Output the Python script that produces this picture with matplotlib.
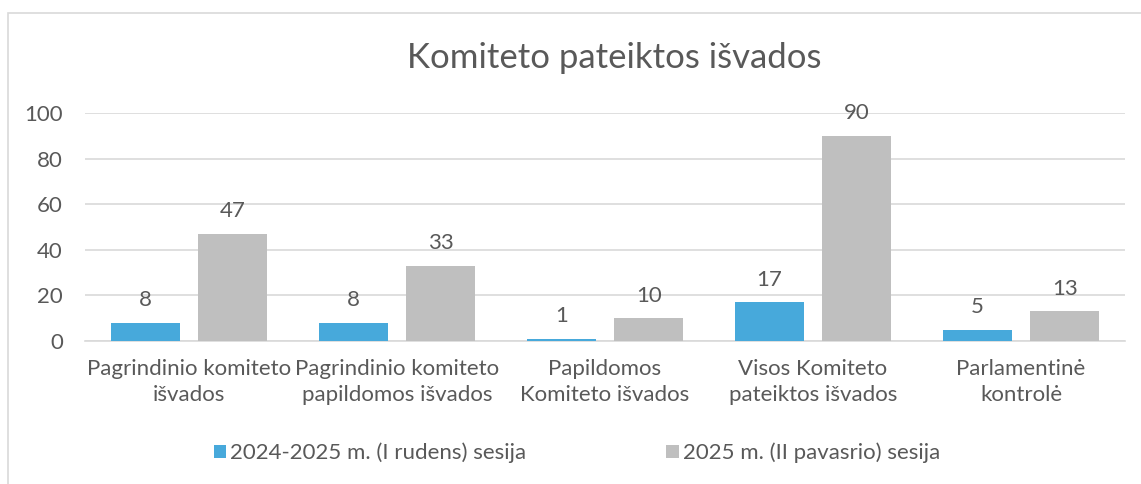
import matplotlib.pyplot as plt
import numpy as np
from matplotlib.patches import Rectangle

categories = ['Pagrindinio komiteto\nišvados', 'Pagrindinio komiteto\npapildomos išvados',
              'Papildomos\nKomiteto išvados', 'Visos Komiteto\npateiktos išvados',
              'Parlamentinė\nkontrolė']
rudens = [8, 8, 1, 17, 5]
pavasario = [47, 33, 10, 90, 13]
series_names = ['2024-2025 m. (I rudens) sesija', '2025 m. (II pavasrio) sesija']

plt.rcParams['font.family'] = ['Lato', 'DejaVu Sans']
txt = '#595959'

fig = plt.figure(figsize=(11.41, 4.84), dpi=100)
# outer chart border
fig.patches.append(Rectangle((8 / 1141, -0.1), 1.2, 1 - 13 / 484 + 0.1, transform=fig.transFigure,
                             fill=False, edgecolor='#d9d9d9', linewidth=1.2))
ax = fig.add_axes([85 / 1141, 1 - 341 / 484, (1125 - 85) / 1141, (341 - 113) / 484])

x = np.arange(len(categories))
w = 0.33
b1 = ax.bar(x - 0.21, rudens, w, color='#47a9db', label=series_names[0], zorder=3)
b2 = ax.bar(x + 0.21, pavasario, w, color='#bfbfbf', label=series_names[1], zorder=3)
for bars in (b1, b2):
    for r in bars:
        ax.annotate(str(int(r.get_height())), (r.get_x() + r.get_width() / 2, r.get_height()),
                    xytext=(0, 9), textcoords='offset points', ha='center', va='bottom',
                    fontsize=16, color=txt)

ax.set_xlim(-0.5, len(categories) - 0.5)
ax.set_ylim(0, 100)
ax.set_yticks(range(0, 101, 20))
ax.yaxis.grid(True, color='#d9d9d9', linewidth=1.2, zorder=0)
ax.set_xticks(x)
ax.set_xticklabels(categories, fontsize=16, color=txt, linespacing=1.35)
ax.tick_params(axis='y', labelsize=16, labelcolor=txt, length=0, pad=16)
ax.tick_params(axis='x', length=0, pad=13)
for s in ['top', 'right', 'left']:
    ax.spines[s].set_visible(False)
ax.spines['bottom'].set_color('#d9d9d9')
ax.spines['bottom'].set_linewidth(1.2)

fig.text(614 / 1141, 1 - 58 / 484, 'Komiteto pateiktos išvados', ha='center', va='center',
         fontsize=25, color=txt)

fig.legend(loc='center', bbox_to_anchor=(577 / 1141, 1 - 453 / 484), ncol=2, frameon=False,
           fontsize=16, labelcolor=txt, handlelength=0.55, handleheight=0.55, handletextpad=0.2,
           columnspacing=6.3)

fig.savefig('out.png', dpi=100)
